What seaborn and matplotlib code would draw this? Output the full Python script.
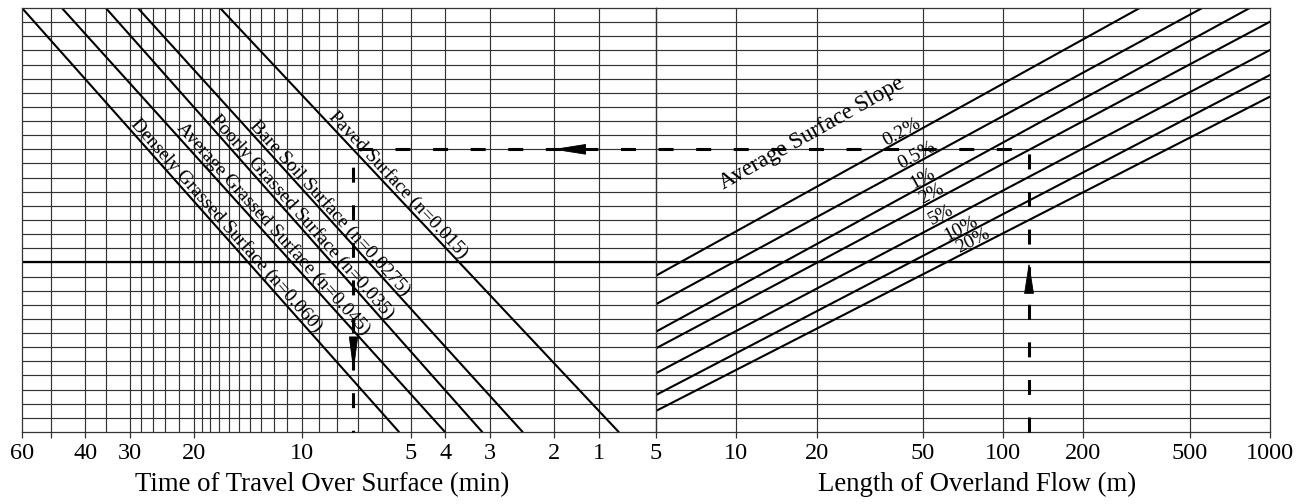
import numpy as np
import pandas as pd
import matplotlib
matplotlib.use("Agg")
import matplotlib.pyplot as plt
import seaborn as sns
from matplotlib.lines import Line2D
from matplotlib.ticker import FixedLocator, NullFormatter
from matplotlib.transforms import IdentityTransform

# ---------------- data ----------------
# Surface roughness lines: travel time (min) where each meets the top / bottom of the turning scale
surfaces = [
    "Densely Grassed Surface (n=0.060)",
    "Average Grassed Surface (n=0.045)",
    "Poorly Grassed Surface (n=0.035)",
    "Bare Soil Surface (n=0.0275)",
    "Paved Surface (n=0.015)",
]
time_at_top = [60.0, 46.5, 35.1, 28.6, 16.9]
time_at_bottom = [5.38, 4.01, 3.16, 2.44, 1.32]

# Average surface slope lines: turning-scale value at 5 m and at 1000 m of overland flow
slopes = ["0.2%", "0.5%", "1%", "2%", "5%", "10%", "20%"]
scale_at_5m = [11.06, 9.04, 7.10, 5.92, 4.16, 2.62, 1.49]
scale_at_1000m = [35.1, 32.6, 30.78, 29.03, 27.03, 25.26, 23.73]

# Axis ticks
time_tick_values = [60, 50, 40, 30, 20, 10, 5, 4, 3, 2, 1.5]
time_tick_labels = ["60", "", "40", "30", "20", "10", "5", "4", "3", "2", "1"]
time_grid = [50, 40, 35, 30, 28, 26, 24, 22, 20, 19, 18, 17, 16, 15, 14, 13, 12,
             11, 10, 9, 8, 7, 6, 5, 4, 3, 2, 1.5]
length_ticks = [5, 10, 20, 50, 100, 200, 500, 1000]
length_grid = [10, 20, 50, 100, 200, 500]

# Worked example: 125 m of flow on a 2% paved slope
example_length = 125
example_scale = 20
example_time = 7.2

SCALE_MAX = 30
REF_LINE = 12

# ---------------- styling ----------------
sns.set_theme(style="ticks")
plt.rcParams["font.family"] = ["Liberation Serif", "DejaVu Serif"]
plt.rcParams["axes.linewidth"] = 0.9
plt.rcParams["axes.edgecolor"] = "#333333"
plt.rcParams["text.color"] = "black"
plt.rcParams["axes.labelcolor"] = "black"

W, H, DPI = 1312, 504, 100
fig = plt.figure(figsize=(W / DPI, H / DPI), dpi=DPI)
fig.patch.set_facecolor("white")

x0, x_mid, x1 = 22, 656, 1270
y_top, y_bot = 8, 432
ax_l = fig.add_axes([x0 / W, (H - y_bot) / H, (x_mid - x0) / W, (y_bot - y_top) / H])
ax_r = fig.add_axes([x_mid / W, (H - y_bot) / H, (x1 - x_mid) / W, (y_bot - y_top) / H])
ax_r.patch.set_alpha(0)

grid_kw = dict(color="#333333", linewidth=0.85)
line_kw = dict(color="black", linewidth=1.5)

# ---------------- left panel: travel time ----------------
left_df = pd.DataFrame({
    "surface": np.repeat(surfaces, 2),
    "time": np.ravel(np.column_stack([time_at_top, time_at_bottom])),
    "scale": [SCALE_MAX, 0] * len(surfaces),
})
sns.lineplot(data=left_df, x="time", y="scale", units="surface", estimator=None,
             sort=False, ax=ax_l, legend=False, **line_kw)
ax_l.set_xscale("log")
ax_l.set_xlim(60, 1.04)

# ---------------- right panel: overland flow length ----------------
right_df = pd.DataFrame({
    "slope": np.repeat(slopes, 2),
    "length": [5, 1000] * len(slopes),
    "scale": np.ravel(np.column_stack([scale_at_5m, scale_at_1000m])),
})
sns.lineplot(data=right_df, x="length", y="scale", units="slope", estimator=None,
             sort=False, ax=ax_r, legend=False, **line_kw)
ax_r.set_xscale("log")
ax_r.set_xlim(5, 1000)

for ax in (ax_l, ax_r):
    ax.set_ylim(0, SCALE_MAX)
    ax.set_yticks([])
    for yv in range(1, SCALE_MAX):
        ax.axhline(yv, zorder=0.5, **grid_kw)
    ax.axhline(REF_LINE, color="black", linewidth=1.6, zorder=0.6)
    ax.set_ylabel("")
    for s in ax.spines.values():
        s.set_visible(True)
        s.set_color("#333333")
    ax.tick_params(axis="x", which="major", length=4, width=0.9, color="#333333",
                   labelsize=17.5, pad=4, labelcolor="black")
    ax.tick_params(axis="x", which="minor", length=0)

for g in time_grid:
    ax_l.axvline(g, zorder=0.5, **grid_kw)
for g in length_grid:
    ax_r.axvline(g, zorder=0.5, **grid_kw)

ax_l.xaxis.set_major_locator(FixedLocator(time_tick_values))
ax_l.set_xticklabels(time_tick_labels)
ax_l.xaxis.set_minor_formatter(NullFormatter())
ax_r.xaxis.set_major_locator(FixedLocator(length_ticks))
ax_r.set_xticklabels([str(v) for v in length_ticks])
ax_r.xaxis.set_minor_formatter(NullFormatter())

ax_l.set_xlabel("Time of Travel Over Surface (min)", fontsize=19.3, color="black")
ax_r.set_xlabel("Length of Overland Flow (m)", fontsize=19.3, color="black")
ax_l.xaxis.set_label_coords(0.473, -0.123)
ax_r.xaxis.set_label_coords(0.523, -0.123)
for ax in (ax_l, ax_r):
    ax.xaxis.label.set_va("center")


def screen_angle(ax, p, q):
    a = ax.transData.transform(p)
    b = ax.transData.transform(q)
    return np.degrees(np.arctan2(b[1] - a[1], b[0] - a[0]))


def along_text(ax, text, xy, angle, ha, size, lift=2.5):
    r = np.radians(angle)
    ax.annotate(text, xy=xy, xytext=(-np.sin(r) * lift, np.cos(r) * lift),
                textcoords="offset points", rotation=angle, rotation_mode="anchor",
                ha=ha, va="baseline", fontsize=size, color="black", zorder=5)


# surface labels, starting where each line crosses the given scale value
label_start = [21.6, 21.3, 21.9, 21.5, 22.1]
for name, tt, tb, ys in zip(surfaces, time_at_top, time_at_bottom, label_start):
    lt = np.log10(tb) + ys / SCALE_MAX * (np.log10(tt) - np.log10(tb))
    ang = screen_angle(ax_l, (tt, SCALE_MAX), (tb, 0))
    along_text(ax_l, name, (10 ** lt, ys), ang, "left", 14)

# slope labels, centred on each line
label_len = [42.8, 48.7, 51.3, 55.5, 60.4, 71.2, 79.0]
for name, s5, s1k, L in zip(slopes, scale_at_5m, scale_at_1000m, label_len):
    yv = s5 + (s1k - s5) * (np.log10(L) - np.log10(5)) / (np.log10(1000) - np.log10(5))
    ang = screen_angle(ax_r, (5, s5), (1000, s1k))
    along_text(ax_r, name, (L, yv), ang, "center", 14, lift=1.5)

ax_r.text(19.2, 21.1, "Average Surface Slope", rotation=29.5, rotation_mode="anchor",
          ha="center", va="center", fontsize=16.5, color="black", zorder=5)

# ---------------- worked example path ----------------
pts = np.array([
    ax_r.transData.transform((example_length, 0)),
    ax_r.transData.transform((example_length, example_scale)),
    ax_l.transData.transform((example_time, example_scale)),
    ax_l.transData.transform((example_time, 0)),
])
fig.add_artist(Line2D(pts[:, 0], pts[:, 1], transform=IdentityTransform(), color="black",
                      linewidth=2.2, dashes=(4.9, 7.4), solid_capstyle="butt",
                      dash_capstyle="butt", zorder=6))


def arrow(ax, tip, base, half_width):
    length_pt = np.hypot(*(ax.transData.transform(tip) - ax.transData.transform(base))) * 72 / DPI
    ax.annotate("", xy=tip, xytext=base, zorder=7,
                arrowprops=dict(arrowstyle=f"-|>,head_length={length_pt:.2f},head_width={half_width}",
                                mutation_scale=1, color="black", lw=0.6,
                                shrinkA=0, shrinkB=0))


arrow(ax_r, (example_length, 12.0), (example_length, 10.0), 3.2)
arrow(ax_l, (2.02, example_scale), (1.66, example_scale), 3.5)
arrow(ax_l, (example_time, 4.25), (example_time, 6.5), 3.0)

fig.savefig("out.png", dpi=DPI, facecolor="white")
